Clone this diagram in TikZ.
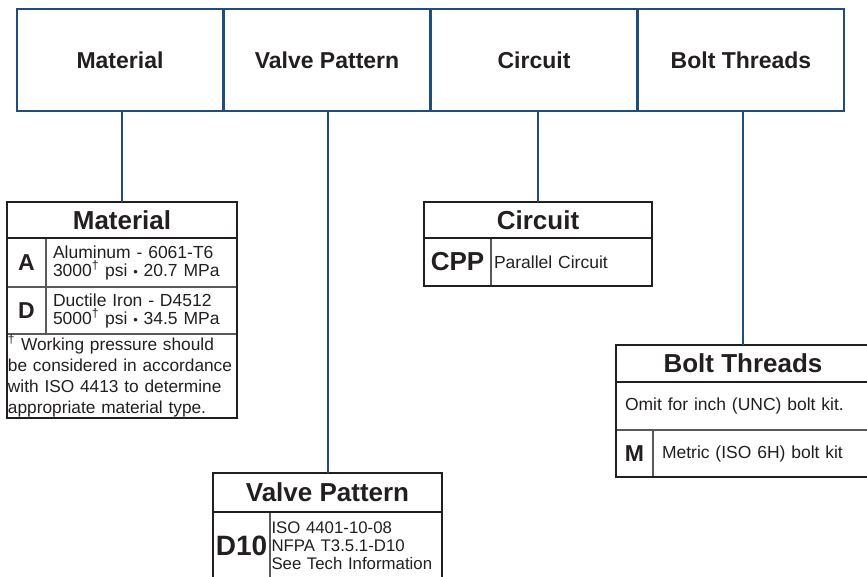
\documentclass[tikz,border=0pt]{standalone}
\usepackage{fontspec}
\setmainfont{Liberation Sans}
\usepackage{xcolor}
\usepackage{tikz}
\usetikzlibrary{positioning}

\definecolor{codeblue}{HTML}{1F4E7C}
\definecolor{inkblack}{HTML}{231F20}
\definecolor{rulegray}{HTML}{58595B}

\hyphenpenalty=10000
\exhyphenpenalty=10000

\newcommand{\topfont}{\fontsize{23}{27}\selectfont\bfseries}
\newcommand{\headfont}{\fontsize{26}{30}\selectfont\bfseries}
\newcommand{\keyfont}{\fontsize{23}{27}\selectfont\bfseries}
\newcommand{\bodyfont}{\fontsize{17.5}{18}\selectfont}
\newcommand{\dotmark}{{\fontsize{13}{13}\selectfont•}}

\tikzset{
  topbox/.style={draw=codeblue, line width=2.5pt, minimum width=206pt, minimum height=102pt,
    inner sep=0pt, outer sep=0pt, font=\topfont, text=inkblack},
  link/.style={draw=codeblue, line width=2pt},
  cell/.style={draw=rulegray, line width=1.5pt, inner sep=0pt, outer sep=0pt,
    anchor=north west, text=inkblack},
  headcell/.style={cell, font=\headfont},
  keycell/.style={cell, font=\keyfont},
  textcell/.style={cell, font=\bodyfont, align=left, text width=#1},
  frame/.style={draw=inkblack, line width=2.5pt},
  headrule/.style={draw=inkblack, line width=2pt},
}

\begin{document}
\begin{tikzpicture}[x=1pt,y=-1pt]
\useasboundingbox (0,0) rectangle (867,577);

% code boxes along the top
\node [topbox, anchor=north west] (topMat) at (17,9) {Material};
\node [topbox, right=1pt of topMat] (topVlv) {Valve Pattern};
\node [topbox, right=1pt of topVlv] (topCir) {Circuit};
\node [topbox, right=1pt of topCir] (topBlt) {Bolt Threads};

% material
\node [headcell, minimum width=230pt, minimum height=36pt] (matH) at (7,202) {Material};
\node [keycell, minimum width=39pt, minimum height=49pt] (matA) at (matH.south west) {A};
\node [textcell=177pt, inner xsep=7pt, minimum height=49pt] (matAtxt) at (matA.north east)
  {Aluminum - 6061-T6\\3000\textsuperscript{†} psi \dotmark{} 20.7 MPa};
\node [keycell, minimum width=39pt, minimum height=47pt] (matD) at (matA.south west) {D};
\node [textcell=177pt, inner xsep=7pt, minimum height=47pt] (matDtxt) at (matD.north east)
  {Ductile Iron - D4512\\5000\textsuperscript{†} psi \dotmark{} 34.5 MPa};
\node [textcell=228pt, inner xsep=1pt, minimum height=84pt,
  font=\fontsize{17.3}{21}\selectfont] (matNote) at (matD.south west)
  {\textsuperscript{†} Working pressure should\\be considered in accordance\\with ISO 4413 to determine\\appropriate material type.};
\draw [frame] (matH.north west) rectangle (matNote.south east);
\draw [headrule] (matH.south west) -- (matH.south east);

% circuit
\node [headcell, minimum width=228pt, minimum height=36pt] (cirH) at (424,202) {Circuit};
\node [keycell, minimum width=67pt, minimum height=48pt, font=\fontsize{26}{30}\selectfont\bfseries] (cirK) at (cirH.south west) {CPP};
\node [textcell=155pt, inner xsep=3pt, minimum height=48pt] (cirTxt) at (cirK.north east) {Parallel Circuit};
\draw [frame] (cirH.north west) rectangle (cirTxt.south east);
\draw [headrule] (cirH.south west) -- (cirH.south east);

% bolt threads
\node [headcell, minimum width=254pt, minimum height=37pt] (bltH) at (616,345) {Bolt Threads};
\node [textcell=236pt, inner xsep=9pt, minimum height=48pt] (bltOmit) at (bltH.south west) {Omit for inch (UNC) bolt kit.};
\node [keycell, minimum width=37pt, minimum height=47pt] (bltM) at (bltOmit.south west) {M};
\node [textcell=199pt, inner xsep=9pt, minimum height=47pt] (bltTxt) at (bltM.north east) {Metric (ISO 6H) bolt kit};
\draw [frame] (bltH.north west) rectangle (bltTxt.south east);
\draw [headrule] (bltH.south west) -- (bltH.south east);

% valve pattern
\node [headcell, minimum width=229pt, minimum height=39pt] (vlvH) at (213,473) {Valve Pattern};
\node [keycell, minimum width=57pt, minimum height=68pt, font=\fontsize{28}{30}\selectfont\bfseries] (vlvK) at (vlvH.south west) {D10};
\node [textcell=169pt, inner xsep=1.5pt, minimum height=68pt, font=\fontsize{16.8}{18}\selectfont] (vlvTxt) at (vlvK.north east)
  {ISO 4401-10-08\\NFPA T3.5.1-D10\\See Tech Information};
\draw [frame] (vlvH.north west) rectangle (vlvTxt.south east);
\draw [headrule] (vlvH.south west) -- (vlvH.south east);

% links
\draw [link] (matH.north |- topMat.south) -- (matH.north);
\draw [link] (vlvH.north |- topVlv.south) -- (vlvH.north);
\draw [link] (cirH.north |- topCir.south) -- (cirH.north);
\draw [link] (bltH.north |- topBlt.south) -- (bltH.north);
\end{tikzpicture}
\end{document}
